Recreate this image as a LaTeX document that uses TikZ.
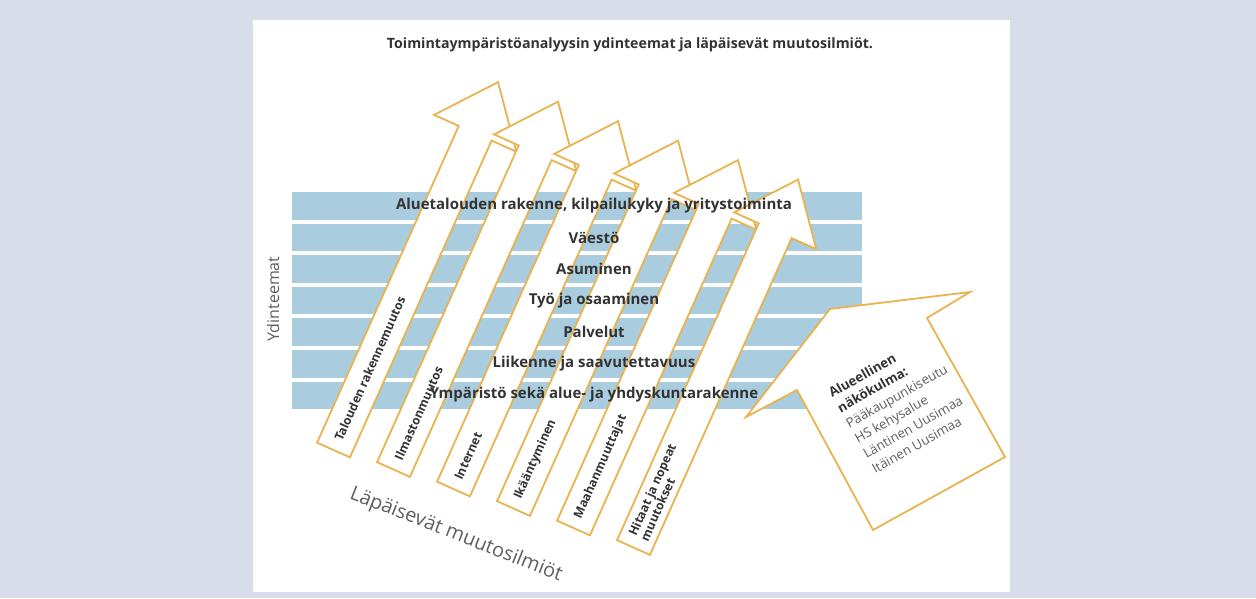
\documentclass[tikz,border=0pt]{standalone}
\usepackage{fontspec}
\setmainfont{Open Sans}

\definecolor{tausta}{HTML}{D8DDE9}
\definecolor{raitasini}{HTML}{A9CCDE}
\definecolor{kulta}{HTML}{E9B350}
\definecolor{tumma}{HTML}{333333}
\definecolor{harmaa}{HTML}{5E5E5E}

\begin{document}
\begin{tikzpicture}[x=1pt, y=-1pt,
    raita/.style={fill=raitasini},
    teema/.style={font=\bfseries\fontsize{15}{17}\selectfont, text=tumma, inner sep=0pt},
    nuoli/.style={draw=kulta, line width=1.8pt, fill=white},
    nuolinimi/.style={font=\bfseries\fontsize{12.2}{13}\selectfont, text=tumma, rotate=65.9, anchor=west, align=left, inner sep=0pt}]
    \useasboundingbox (0,0) rectangle (1256,598);
    \fill[tausta] (0,0) rectangle (1256,598);
    \fill[white] (253,20) rectangle (1010,592);

    \node[font=\bfseries\fontsize{14.2}{16}\selectfont, text=tumma] (otsikko) at (630,45) {Toimintaympäristöanalyysin ydinteemat ja läpäisevät muutosilmiöt.};

    % ydinteemojen raidat
    \fill[raita] (292,192) rectangle (862,219.5);
    \fill[raita] (292,223.6) rectangle (862,251.1);
    \fill[raita] (292,255.2) rectangle (862,282.7);
    \fill[raita] (292,286.8) rectangle (862,314.3);
    \fill[raita] (292,318.4) rectangle (862,345.9);
    \fill[raita] (292,350) rectangle (862,377.5);
    \fill[raita] (292,381.6) rectangle (862,409.1);

    % läpäisevät muutosilmiöt
    \draw[nuoli, shift={(333.5,450)}, rotate=65.9] (0,-18) -- (347,-18) -- (347,-45) -- (403,0) -- (347,45) -- (347,18) -- (0,18) -- cycle
        (10,0) node[nuolinimi] (talous) {Talouden rakennemuutos};
    \draw[nuoli, shift={(393.5,469.5)}, rotate=65.9] (0,-18) -- (347,-18) -- (347,-45) -- (403,0) -- (347,45) -- (347,18) -- (0,18) -- cycle
        (10,0) node[nuolinimi] (ilmasto) {Ilmastonmuutos};
    \draw[nuoli, shift={(453.5,489)}, rotate=65.9] (0,-18) -- (347,-18) -- (347,-45) -- (403,0) -- (347,45) -- (347,18) -- (0,18) -- cycle
        (10,0) node[nuolinimi] (internet) {Internet};
    \draw[nuoli, shift={(513.5,508.5)}, rotate=65.9] (0,-18) -- (347,-18) -- (347,-45) -- (403,0) -- (347,45) -- (347,18) -- (0,18) -- cycle
        (10,0) node[nuolinimi] (ikaantyminen) {Ikääntyminen};
    \draw[nuoli, shift={(573.5,528)}, rotate=65.9] (0,-18) -- (347,-18) -- (347,-45) -- (403,0) -- (347,45) -- (347,18) -- (0,18) -- cycle
        (10,0) node[nuolinimi] (maahanmuutto) {Maahanmuuttajat};
    \draw[nuoli, shift={(633.5,547.5)}, rotate=65.9] (0,-18) -- (347,-18) -- (347,-45) -- (403,0) -- (347,45) -- (347,18) -- (0,18) -- cycle
        (10,0) node[nuolinimi] (muutokset) {Hitaat ja nopeat\\muutokset};

    % alueellinen näkökulma
    \draw[nuoli] (746,417) -- (830,309) -- (970,292) -- (927,318) -- (1005,457) -- (873,530) -- (797,390) -- cycle;
    \node[rotate=29.5, anchor=north west, align=left, inner sep=0pt, text=harmaa, font=\fontsize{13.2}{17.5}\selectfont] (alue) at (827,389)
        {\textcolor{tumma}{\bfseries Alueellinen}\\\textcolor{tumma}{\bfseries näkökulma:}\\Pääkaupunkiseutu\\HS kehysalue\\Läntinen Uusimaa\\Itäinen Uusimaa};

    % ydinteemat
    \node[teema] (aluetalous) at (594,206) {Aluetalouden rakenne, kilpailukyky ja yritystoiminta};
    \node[teema] (vaesto) at (594,237.5) {Väestö};
    \node[teema] (asuminen) at (594,269) {Asuminen};
    \node[teema] (tyo) at (594,300.5) {Työ ja osaaminen};
    \node[teema] (palvelut) at (594,332) {Palvelut};
    \node[teema] (liikenne) at (594,363.5) {Liikenne ja saavutettavuus};
    \node[teema] (ymparisto) at (594,395) {Ympäristö sekä alue- ja yhdyskuntarakenne};

    \node[rotate=90, text=harmaa, font=\fontsize{16}{18}\selectfont] (ydinteemat) at (273,299) {Ydinteemat};
    \node[rotate=-21.5, text=harmaa, font=\fontsize{19.8}{21}\selectfont] (lapaisevat) at (456,535) {Läpäisevät muutosilmiöt};
\end{tikzpicture}
\end{document}
